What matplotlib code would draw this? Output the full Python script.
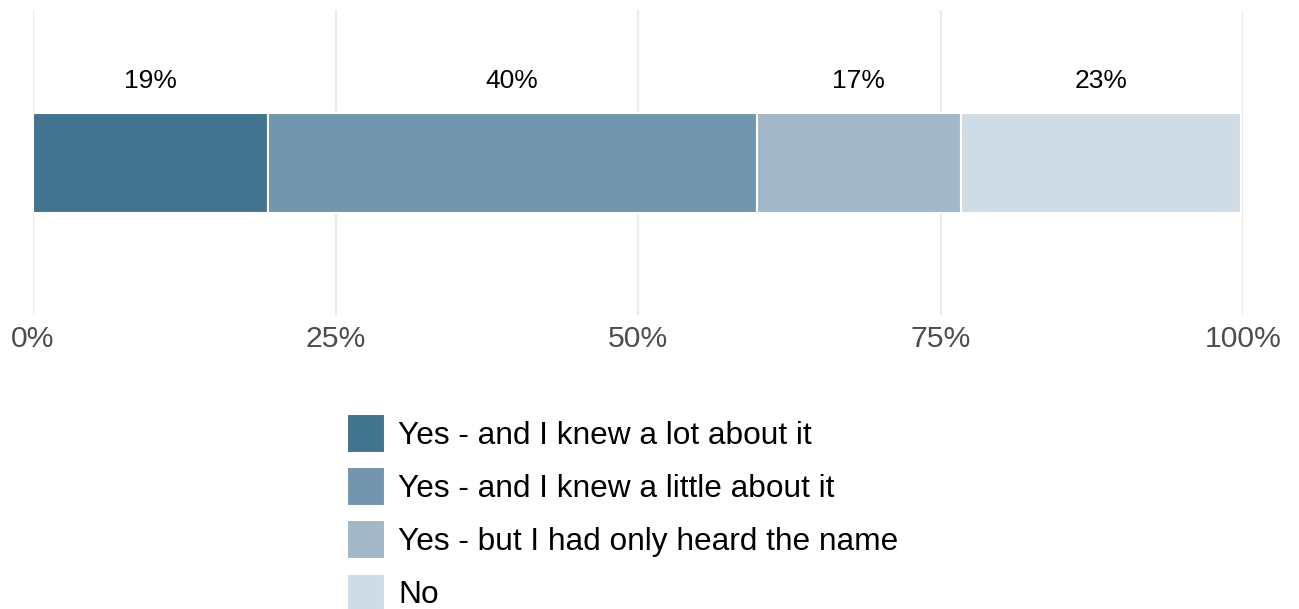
import numpy as np
import matplotlib.pyplot as plt

plt.rcParams['font.family'] = ['Liberation Sans', 'DejaVu Sans']

# survey answers, share of respondents (%)
answers = ["Yes - and I knew a lot about it",
           "Yes - and I knew a little about it",
           "Yes - but I had only heard the name",
           "No"]
shares = [19.4, 40.4, 16.9, 23.1]
colors = ["#42738f", "#7196ad", "#a2b8c8", "#d0dce5"]
ticks = [0, 25, 50, 75, 100]
tick_labels = ["0%", "25%", "50%", "75%", "100%"]

W, H = 1299, 609
fig = plt.figure(figsize=(W / 100, H / 100), dpi=100)
ax = fig.add_axes([33 / W, 1 - 315 / H, 1210 / W, 305 / H])

# vertical grid behind the bar
for t in ticks:
    ax.axvline(t, color="#ebebeb", lw=1.6, zorder=0)

left = 0
handles = []
for name, val, c in zip(answers, shares, colors):
    b = ax.barh(0.498, val, left=left, height=0.328, color=c,
                edgecolor="white", linewidth=1.5, label=name, zorder=2)
    handles.append(b)
    ax.text(left + val / 2, 0.767, f"{round(val)}%", ha="center", va="center",
            fontsize=19, color="black")
    left += val

ax.set_xlim(0, 100)
ax.set_ylim(0, 1)
ax.set_xticks(ticks)
ax.set_xticklabels(tick_labels, fontsize=21.7, color="#4d4d4d")
ax.tick_params(axis="x", length=0, pad=7)
ax.set_yticks([])
for s in ax.spines.values():
    s.set_visible(False)

fig.legend(handles=handles, labels=answers, loc="upper left",
           bbox_to_anchor=(347 / W, 1 - 414 / H), frameon=False,
           fontsize=22.8, handlelength=1.2, handleheight=1.5,
           handletextpad=0.42, labelspacing=0.46, borderpad=0,
           borderaxespad=0)

fig.savefig("out.png", dpi=100)
